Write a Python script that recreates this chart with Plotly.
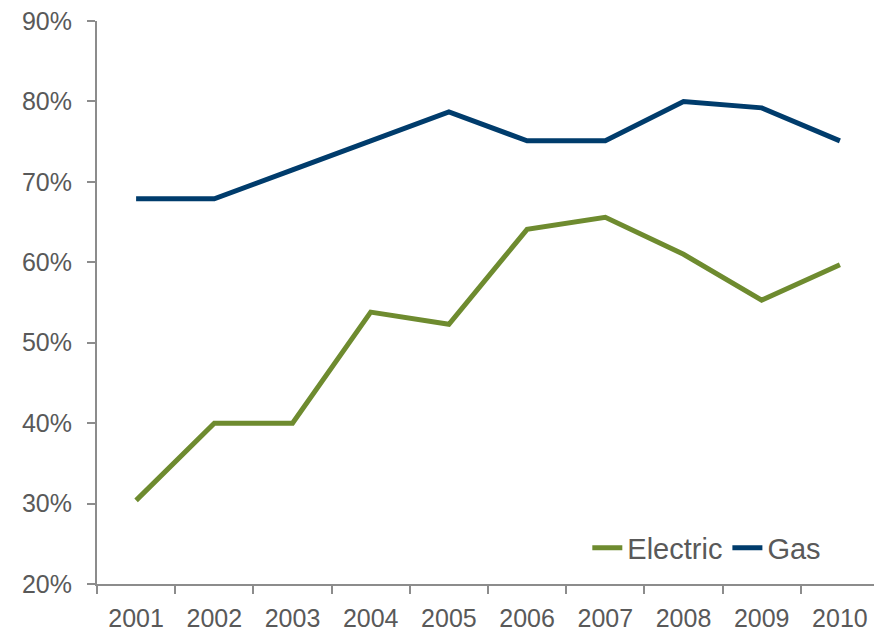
import plotly.graph_objects as go

years = ["2001", "2002", "2003", "2004", "2005", "2006", "2007", "2008", "2009", "2010"]
electric = [30.4, 40.0, 40.0, 53.8, 52.3, 64.1, 65.6, 61.0, 55.3, 59.7]
gas = [67.9, 67.9, 71.5, 75.1, 78.7, 75.1, 75.1, 80.0, 79.2, 75.1]

green = "#6E8B2F"
navy = "#003C6C"
grey = "#8C8C8C"
text_col = "#595959"

fig = go.Figure()
fig.add_trace(go.Scatter(x=years, y=electric, mode="lines", name="Electric",
                         line=dict(color=green, width=5)))
fig.add_trace(go.Scatter(x=years, y=gas, mode="lines", name="Gas",
                         line=dict(color=navy, width=5)))

# the page body adds an 8px offset, so the figure is a bit smaller than the window
fig.update_layout(
    width=874,
    height=623,
    margin=dict(l=89, r=3, t=13, b=47),
    paper_bgcolor="white",
    plot_bgcolor="white",
    font=dict(family="Liberation Sans, Arial", size=25, color=text_col),
    legend=dict(
        orientation="h",
        x=0.627, y=0.064,
        xanchor="left", yanchor="middle",
        font=dict(size=29),
        bgcolor="rgba(0,0,0,0)",
        itemwidth=30,
    ),
    xaxis=dict(
        type="category",
        automargin=False,
        showgrid=False,
        showline=True,
        linecolor=grey,
        linewidth=2,
        ticks="outside",
        tickson="boundaries",
        ticklen=8,
        tickcolor=grey,
        tickwidth=2,
        ticklabelstandoff=11,
        ticklabeloverflow="allow",
        range=[-0.5, 9.5],
    ),
    yaxis=dict(
        automargin=False,
        range=[20, 90],
        dtick=10,
        ticksuffix="%",
        showgrid=False,
        zeroline=False,
        showline=True,
        linecolor=grey,
        linewidth=2,
        ticks="outside",
        ticklen=8,
        tickcolor=grey,
        tickwidth=2,
        ticklabelstandoff=10,
        ticklabeloverflow="allow",
    ),
)

fig.write_html("out.html")
